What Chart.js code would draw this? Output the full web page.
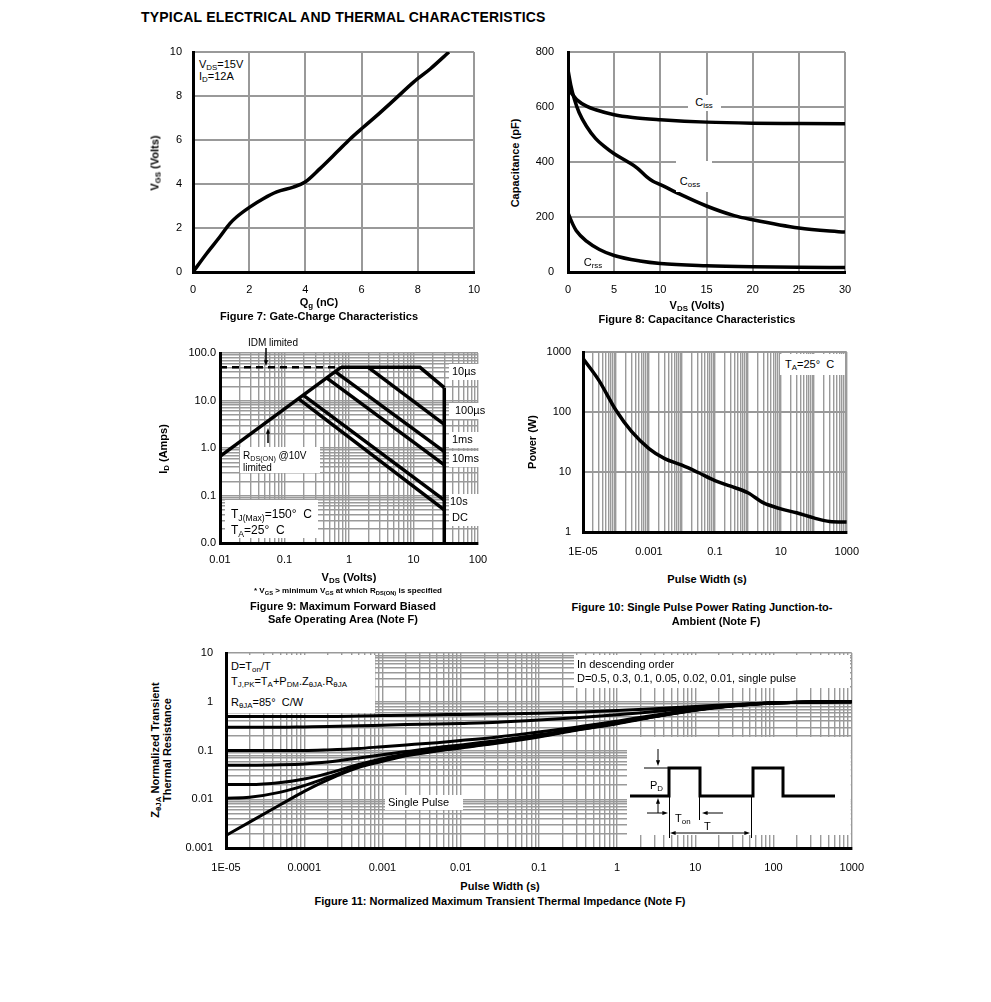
<!DOCTYPE html>
<html>
<head>
<meta charset="utf-8">
<title>Typical Electrical and Thermal Characteristics</title>
<script src="https://cdn.jsdelivr.net/npm/chart.js@4.4.1/dist/chart.umd.min.js"></script>
<style>
  body { margin: 0; background: #fff; }
  #page { position: relative; width: 991px; height: 1002px; overflow: hidden; font-family: "Liberation Sans", Arial, sans-serif; color: #000; }
  .cv { position: absolute; }
  .t { position: absolute; white-space: nowrap; font-size: 11px; line-height: 13px; }
  .b { font-weight: bold; }
  .c { transform: translateX(-50%); }
  .r { position: absolute; white-space: nowrap; font-size: 11px; line-height: 13px; font-weight: bold; text-align: center; transform: translate(-50%, -50%) rotate(-90deg); }
  .w { position: absolute; background: #fff; }
  sub { font-size: 72%; vertical-align: -0.3em; line-height: 0; }
</style>
</head>
<body>
<div id="page">
  <div id="charts"></div>

  <div class="t b" style="left:141px;top:9px;font-size:14px;line-height:16px;letter-spacing:0.2px">TYPICAL ELECTRICAL AND THERMAL CHARACTERISTICS</div>

  <!-- Figure 7 -->
  <div class="w" style="left:195px;top:54px;width:53px;height:33px"></div>
  <div class="t" style="left:199px;top:58px">V<sub>DS</sub>=15V</div>
  <div class="t" style="left:199px;top:70px">I<sub>D</sub>=12A</div>
  <div class="r" style="left:155px;top:163px">V<sub>GS</sub> (Volts)</div>
  <div class="t b c" style="left:319px;top:296px">Q<sub>g</sub> (nC)</div>
  <div class="t b c" style="left:319px;top:310px">Figure 7: Gate-Charge Characteristics</div>

  <!-- Figure 8 -->
  <div class="w" style="left:688px;top:95px;width:33px;height:16px"></div>
  <div class="t c" style="left:704px;top:96px">C<sub>iss</sub></div>
  <div class="w" style="left:676px;top:161px;width:36px;height:31px"></div>
  <div class="t c" style="left:690px;top:175px">C<sub>oss</sub></div>
  <div class="t c" style="left:593px;top:256px">C<sub>rss</sub></div>
  <div class="r" style="left:515px;top:163px">Capacitance (pF)</div>
  <div class="t b c" style="left:697px;top:299px">V<sub>DS</sub> (Volts)</div>
  <div class="t b c" style="left:697px;top:313px">Figure 8: Capacitance Characteristics</div>

  <!-- Figure 9 -->
  <div class="t c" style="left:273px;top:336px;font-size:10px">IDM limited</div>
  <div class="w" style="left:240px;top:447px;width:80px;height:26px"></div>
  <div class="t" style="left:243px;top:449px;font-size:10px">R<sub>DS(ON)</sub> @10V</div>
  <div class="t" style="left:243px;top:461px;font-size:10px">limited</div>
  <div class="w" style="left:225px;top:500px;width:93px;height:38px"></div>
  <div class="t" style="left:231px;top:508px;font-size:12px">T<sub>J(Max)</sub>=150°&nbsp; C</div>
  <div class="t" style="left:231px;top:524px;font-size:12px">T<sub>A</sub>=25°&nbsp; C</div>
  <div class="w" style="left:449px;top:364px;width:31px;height:16px"></div>
  <div class="t" style="left:452px;top:365px">10µs</div>
  <div class="w" style="left:449px;top:403px;width:38px;height:16px"></div>
  <div class="t" style="left:455px;top:404px">100µs</div>
  <div class="w" style="left:449px;top:432px;width:31px;height:16px"></div>
  <div class="t" style="left:452px;top:433px">1ms</div>
  <div class="w" style="left:449px;top:451px;width:31px;height:16px"></div>
  <div class="t" style="left:452px;top:452px">10ms</div>
  <div class="w" style="left:449px;top:494px;width:31px;height:16px"></div>
  <div class="t" style="left:450px;top:495px">10s</div>
  <div class="w" style="left:449px;top:510px;width:31px;height:16px"></div>
  <div class="t" style="left:452px;top:511px">DC</div>
  <div class="r" style="left:163px;top:449px">I<sub>D</sub> (Amps)</div>
  <div class="t b c" style="left:349px;top:571px">V<sub>DS</sub> (Volts)</div>
  <div class="t b c" style="left:348px;top:586px;font-size:8px;line-height:10px">* V<sub>GS</sub> &gt; minimum V<sub>GS</sub> at which R<sub>DS(ON)</sub> is specified</div>
  <div class="t b c" style="left:343px;top:600px">Figure 9: Maximum Forward Biased</div>
  <div class="t b c" style="left:343px;top:613px">Safe Operating Area (Note F)</div>

  <!-- Figure 10 -->
  <div class="w" style="left:780px;top:354px;width:65px;height:21px"></div>
  <div class="t" style="left:785px;top:358px">T<sub>A</sub>=25°&nbsp; C</div>
  <div class="r" style="left:532px;top:442px">Power (W)</div>
  <div class="t b c" style="left:707px;top:573px">Pulse Width (s)</div>
  <div class="t b c" style="left:702px;top:601px">Figure 10: Single Pulse Power Rating Junction-to-</div>
  <div class="t b c" style="left:716px;top:615px">Ambient (Note F)</div>

  <!-- Figure 11 -->
  <div class="w" style="left:228px;top:655px;width:147px;height:58px"></div>
  <div class="t" style="left:231px;top:660px">D=T<sub>on</sub>/T</div>
  <div class="t" style="left:231px;top:675px">T<sub>J,PK</sub>=T<sub>A</sub>+P<sub>DM</sub>.Z<sub>θJA</sub>.R<sub>θJA</sub></div>
  <div class="t" style="left:231px;top:696px">R<sub>θJA</sub>=85°&nbsp; C/W</div>
  <div class="w" style="left:574px;top:655px;width:276px;height:33px"></div>
  <div class="t" style="left:577px;top:658px">In descending order</div>
  <div class="t" style="left:577px;top:672px">D=0.5, 0.3, 0.1, 0.05, 0.02, 0.01, single pulse</div>
  <div class="w" style="left:385px;top:795px;width:78px;height:15px"></div>
  <div class="t" style="left:388px;top:796px">Single Pulse</div>
  <div class="t" style="left:650px;top:779px">P<sub>D</sub></div>
  <div class="t" style="left:675px;top:812px">T<sub>on</sub></div>
  <div class="t" style="left:704px;top:820px">T</div>
  <div class="r" style="left:161px;top:750px;line-height:12px">Z<sub>θJA</sub> Normalized Transient<br>Thermal Resistance</div>
  <div class="t b c" style="left:500px;top:880px">Pulse Width (s)</div>
  <div class="t b c" style="left:500px;top:895px">Figure 11: Normalized Maximum Transient Thermal Impedance (Note F)</div>
</div>

<script>
// ---- Figure 7: gate charge ----
const gateQg = [0, 0.48, 0.95, 1.31, 1.55, 2.02, 2.5, 2.98, 3.57, 3.99, 4.52, 5.12, 5.6, 6.07, 6.55, 7.14, 7.86, 8.45, 9.11];
const gateVgs = [0, 0.83, 1.59, 2.2, 2.5, 2.95, 3.33, 3.64, 3.86, 4.09, 4.7, 5.45, 6.06, 6.59, 7.12, 7.8, 8.64, 9.24, 10];

// ---- Figure 8: capacitance ----
const cissVds = [0, 0.5, 1, 2, 3, 5, 7, 10, 15, 20, 25, 30];
const cissPf = [665, 645, 625, 603, 590, 572, 562, 554, 545, 541, 540, 539];
const cossVds = [0, 0.3, 0.7, 1.2, 2, 3, 4, 5, 6.5, 7.5, 8.5, 9.2, 10, 12, 15, 18, 20, 25, 30];
const cossPf = [735, 680, 627, 580, 530, 485, 455, 430, 400, 378, 347, 330, 318, 285, 240, 205, 190, 160, 145];
const crssVds = [0, 0.5, 0.9, 2, 3.4, 5, 7.8, 10, 15, 20, 25, 30];
const crssPf = [215, 175, 150, 112, 82, 60, 40, 31, 23, 19, 17, 16];

// ---- Figure 9: safe operating area ----
const soaRdsV = [0.01, 0.75];     const soaRdsI = [0.667, 50];
const soaIdmV = [0.01, 0.75];     const soaIdmI = [50, 50];
const soa10usV = [0.75, 12.6, 30]; const soa10usI = [50, 50, 18.6];
const soa100usV = [1.99, 30];     const soa100usI = [50, 3.15];
const soa1msV = [0.61, 30];       const soa1msI = [40.6, 0.84];
const soa10msV = [0.45, 30];      const soa10msI = [30, 0.44];
const soa10sV = [0.195, 30];      const soa10sI = [13, 0.08];
const soaDcV = [0.164, 30];       const soaDcI = [10.9, 0.05];
const soaVmaxV = [30, 30];        const soaVmaxI = [18.6, 0.01];

// ---- Figure 10: single pulse power ----
const pulseTime = [1e-5, 3e-5, 1e-4, 3e-4, 1e-3, 3e-3, 1e-2, 3e-2, 0.1, 0.3, 1, 3, 10, 30, 100, 300, 1000];
const pulsePower = [780, 340, 107, 47, 24.6, 16.7, 13, 9.9, 7.2, 5.8, 4.5, 3.05, 2.43, 2.09, 1.72, 1.5, 1.47];

// ---- Figure 11: transient thermal impedance ----
const zthTime = [1e-5, 2e-5, 5e-5, 1e-4, 2e-4, 5e-4, 1e-3, 2e-3, 5e-3, 1e-2, 3e-2, 0.1, 0.3, 1, 3, 10, 30, 100, 300, 1000];
const zthD05 = [0.5, 0.5, 0.5, 0.5, 0.5, 0.51, 0.52, 0.53, 0.54, 0.55, 0.56, 0.58, 0.61, 0.66, 0.72, 0.8, 0.88, 0.95, 0.99, 1.0];
const zthD03 = [0.3, 0.3, 0.3, 0.305, 0.31, 0.32, 0.33, 0.34, 0.35, 0.36, 0.38, 0.42, 0.47, 0.54, 0.63, 0.75, 0.86, 0.95, 0.99, 1.0];
const zthD01 = [0.1, 0.1, 0.1, 0.1, 0.103, 0.11, 0.12, 0.13, 0.145, 0.16, 0.19, 0.24, 0.3, 0.4, 0.53, 0.7, 0.84, 0.94, 0.99, 1.0];
const zthD005 = [0.05, 0.05, 0.051, 0.053, 0.058, 0.07, 0.082, 0.095, 0.115, 0.13, 0.16, 0.21, 0.28, 0.38, 0.51, 0.69, 0.83, 0.94, 0.99, 1.0];
const zthD002 = [0.02, 0.02, 0.022, 0.026, 0.034, 0.052, 0.068, 0.085, 0.105, 0.12, 0.15, 0.2, 0.27, 0.37, 0.5, 0.68, 0.83, 0.94, 0.99, 1.0];
const zthD001 = [0.0105, 0.011, 0.014, 0.019, 0.028, 0.047, 0.063, 0.081, 0.1, 0.115, 0.145, 0.195, 0.265, 0.36, 0.5, 0.68, 0.83, 0.94, 0.99, 1.0];
const zthSingle = [0.0018, 0.0034, 0.0078, 0.0145, 0.025, 0.045, 0.06, 0.078, 0.098, 0.113, 0.142, 0.19, 0.26, 0.355, 0.49, 0.67, 0.82, 0.94, 0.99, 1.0];

// tick labels
const soaXDecades = [0.01, 0.1, 1, 10, 100];  const soaXLabels = ['0.01', '0.1', '1', '10', '100'];
const soaYDecades = [0.01, 0.1, 1, 10, 100];  const soaYLabels = ['0.0', '0.1', '1.0', '10.0', '100.0'];
const pulseXDecades = [1e-5, 1e-4, 1e-3, 1e-2, 0.1, 1, 10, 100, 1000];
const pulseXLabelAt = [1e-5, 1e-3, 0.1, 10, 1000]; const pulseXLabels = ['1E-05', '0.001', '0.1', '10', '1000'];
const pulseYDecades = [1, 10, 100, 1000];     const pulseYLabels = ['1', '10', '100', '1000'];
const zthXDecades = [1e-5, 1e-4, 1e-3, 1e-2, 0.1, 1, 10, 100, 1000];
const zthXLabels = ['1E-05', '0.0001', '0.001', '0.01', '0.1', '1', '10', '100', '1000'];
const zthYDecades = [0.001, 0.01, 0.1, 1, 10]; const zthYLabels = ['0.001', '0.01', '0.1', '1', '10'];

Chart.defaults.font.family = '"Liberation Sans", Arial, sans-serif';
Chart.defaults.font.size = 11;
Chart.defaults.color = '#000';

const gridLin = { color: '#999', lineWidth: 2, drawTicks: false };
const gridLog = { color: '#9a9a9a', lineWidth: 1.4, drawTicks: false };
const axisLine = { color: '#000', width: 3 };

function pts(xs, ys) {
  return xs.map((x, i) => ({ x: x, y: ys[i] }));
}

// gridline values: 1..9 within each decade, last decade alone
function logGrid(decades, minors) {
  const v = [];
  decades.forEach((d, i) => {
    if (!minors || i === decades.length - 1) { v.push(d); return; }
    for (let k = 1; k <= 9; k++) v.push(d * k);
  });
  return v;
}

function decadeLabel(at, labels) {
  return value => {
    const i = at.findIndex(d => Math.abs(Math.log10(value / d)) < 1e-6);
    return i < 0 ? '' : labels[i];
  };
}

// the top padding must exceed half a label plus the y tick padding,
// otherwise chart.js pushes the plot area down
function mount(area, pad) {
  const w = area.r - area.l + pad.l + pad.r;
  const h = area.b - area.t + pad.t + pad.b;
  const div = document.createElement('div');
  div.className = 'cv';
  div.style.left = (area.l - pad.l) + 'px';
  div.style.top = (area.t - pad.t) + 'px';
  div.style.width = w + 'px';
  div.style.height = h + 'px';
  const cv = document.createElement('canvas');
  cv.width = w;
  cv.height = h;
  div.appendChild(cv);
  document.getElementById('charts').appendChild(div);
  return cv;
}

function options(pad, scales) {
  scales.x.afterFit = s => { s.height = pad.b; };
  scales.y.afterFit = s => { s.width = pad.l; };
  scales.x.ticks.maxRotation = 0;
  scales.x.ticks.autoSkip = false;
  scales.y.ticks.autoSkip = false;
  return {
    responsive: false,
    animation: false,
    devicePixelRatio: 1,
    layout: { autoPadding: false, padding: { left: 0, top: pad.t, right: pad.r, bottom: 0 } },
    plugins: { legend: { display: false }, tooltip: { enabled: false } },
    elements: { point: { radius: 0 }, line: { borderColor: '#000', borderWidth: 3.5, fill: false } },
    scales: scales
  };
}

function arrow(ctx, x1, y1, x2, y2, head) {
  const a = Math.atan2(y2 - y1, x2 - x1);
  ctx.beginPath();
  ctx.moveTo(x1, y1);
  ctx.lineTo(x2 - Math.cos(a) * head * 0.6, y2 - Math.sin(a) * head * 0.6);
  ctx.stroke();
  ctx.beginPath();
  ctx.moveTo(x2, y2);
  ctx.lineTo(x2 - head * Math.cos(a - 0.35), y2 - head * Math.sin(a - 0.35));
  ctx.lineTo(x2 - head * Math.cos(a + 0.35), y2 - head * Math.sin(a + 0.35));
  ctx.closePath();
  ctx.fill();
}

// ---- Figure 7 ----
const fig7Area = { l: 193, t: 52, r: 474, b: 272 };
const fig7Pad = { l: 40, t: 26, r: 20, b: 30 };
new Chart(mount(fig7Area, fig7Pad), {
  type: 'line',
  data: { datasets: [{ label: 'VGS', data: pts(gateQg, gateVgs), cubicInterpolationMode: 'monotone' }] },
  options: options(fig7Pad, {
    x: { type: 'linear', min: 0, max: 10, ticks: { stepSize: 2, padding: 11 }, grid: gridLin, border: axisLine },
    y: { type: 'linear', min: 0, max: 10, ticks: { stepSize: 2, padding: 11 }, grid: gridLin, border: axisLine }
  })
});

// ---- Figure 8 ----
const fig8Area = { l: 568, t: 52, r: 845, b: 272 };
const fig8Pad = { l: 45, t: 26, r: 20, b: 30 };
new Chart(mount(fig8Area, fig8Pad), {
  type: 'line',
  data: {
    datasets: [
      { label: 'Ciss', data: pts(cissVds, cissPf), cubicInterpolationMode: 'monotone' },
      { label: 'Coss', data: pts(cossVds, cossPf), cubicInterpolationMode: 'monotone' },
      { label: 'Crss', data: pts(crssVds, crssPf), cubicInterpolationMode: 'monotone' }
    ]
  },
  options: options(fig8Pad, {
    x: { type: 'linear', min: 0, max: 30, ticks: { stepSize: 5, padding: 11 }, grid: gridLin, border: axisLine },
    y: { type: 'linear', min: 0, max: 800, ticks: { stepSize: 200, padding: 14 }, grid: gridLin, border: axisLine }
  })
});

// ---- Figure 9 ----
const fig9Area = { l: 220, t: 353, r: 478, b: 543 };
const fig9Pad = { l: 45, t: 26, r: 20, b: 30 };
const soaArrows = {
  id: 'soaArrows',
  afterDraw(chart) {
    const { ctx, chartArea: a } = chart;
    ctx.save();
    ctx.strokeStyle = '#000';
    ctx.fillStyle = '#000';
    ctx.lineWidth = 1.5;
    arrow(ctx, a.left + 46, a.top - 5, a.left + 46, a.top + 13, 6);
    arrow(ctx, a.left + 48, a.top + 90, a.left + 48, a.top + 75, 6);
    ctx.restore();
  }
};
new Chart(mount(fig9Area, fig9Pad), {
  type: 'line',
  data: {
    datasets: [
      { label: 'RDS(ON) limited', data: pts(soaRdsV, soaRdsI) },
      { label: 'IDM limited', data: pts(soaIdmV, soaIdmI), borderWidth: 2.5, borderDash: [7, 5] },
      { label: '10us', data: pts(soa10usV, soa10usI) },
      { label: '100us', data: pts(soa100usV, soa100usI) },
      { label: '1ms', data: pts(soa1msV, soa1msI) },
      { label: '10ms', data: pts(soa10msV, soa10msI) },
      { label: '10s', data: pts(soa10sV, soa10sI) },
      { label: 'DC', data: pts(soaDcV, soaDcI) },
      { label: 'VDS max', data: pts(soaVmaxV, soaVmaxI) }
    ]
  },
  options: options(fig9Pad, {
    x: {
      type: 'logarithmic', min: 0.01, max: 100,
      afterBuildTicks: s => { s.ticks = logGrid(soaXDecades, true).map(v => ({ value: v })); },
      ticks: { padding: 10, callback: decadeLabel(soaXDecades, soaXLabels) },
      grid: gridLog, border: axisLine
    },
    y: {
      type: 'logarithmic', min: 0.01, max: 100,
      afterBuildTicks: s => { s.ticks = logGrid(soaYDecades, true).map(v => ({ value: v })); },
      ticks: { padding: 4, callback: decadeLabel(soaYDecades, soaYLabels) },
      grid: gridLog, border: axisLine
    }
  }),
  plugins: [soaArrows]
});

// ---- Figure 10 ----
const fig10Area = { l: 583, t: 352, r: 847, b: 532 };
const fig10Pad = { l: 45, t: 26, r: 25, b: 30 };
new Chart(mount(fig10Area, fig10Pad), {
  type: 'line',
  data: { datasets: [{ label: 'Power', data: pts(pulseTime, pulsePower), cubicInterpolationMode: 'monotone' }] },
  options: options(fig10Pad, {
    x: {
      type: 'logarithmic', min: 1e-5, max: 1000,
      afterBuildTicks: s => { s.ticks = logGrid(pulseXDecades, true).map(v => ({ value: v })); },
      ticks: { padding: 13, callback: decadeLabel(pulseXLabelAt, pulseXLabels) },
      grid: gridLog, border: axisLine
    },
    y: {
      type: 'logarithmic', min: 1, max: 1000,
      afterBuildTicks: s => { s.ticks = logGrid(pulseYDecades, false).map(v => ({ value: v })); },
      ticks: { padding: 12, callback: decadeLabel(pulseYDecades, pulseYLabels) },
      grid: { color: '#999', lineWidth: 2, drawTicks: false }, border: axisLine
    }
  })
});

// ---- Figure 11 ----
const fig11Area = { l: 226, t: 653, r: 852, b: 848 };
const fig11Pad = { l: 45, t: 26, r: 25, b: 30 };
const pulseInset = {
  id: 'pulseInset',
  afterDatasetsDraw(chart) {
    const { ctx, chartArea: a } = chart;
    const ox = a.left + 401, oy = a.top + 84;
    ctx.save();
    ctx.fillStyle = '#fff';
    ctx.fillRect(ox, oy, a.right - ox - 1, 98);
    ctx.strokeStyle = '#000';
    ctx.fillStyle = '#000';
    // waveform
    ctx.lineWidth = 3;
    ctx.lineJoin = 'miter';
    const lo = oy + 59, hi = oy + 31;
    ctx.beginPath();
    ctx.moveTo(ox + 3, lo);
    ctx.lineTo(ox + 42, lo); ctx.lineTo(ox + 42, hi); ctx.lineTo(ox + 73, hi); ctx.lineTo(ox + 73, lo);
    ctx.lineTo(ox + 126, lo); ctx.lineTo(ox + 126, hi); ctx.lineTo(ox + 156, hi); ctx.lineTo(ox + 156, lo);
    ctx.lineTo(ox + 208, lo);
    ctx.stroke();
    // reference and marker lines
    ctx.lineWidth = 1;
    ctx.beginPath();
    ctx.moveTo(ox + 17, hi); ctx.lineTo(ox + 42, hi);
    ctx.moveTo(ox + 42.5, lo); ctx.lineTo(ox + 42.5, oy + 101);
    ctx.moveTo(ox + 72.5, lo); ctx.lineTo(ox + 72.5, oy + 83);
    ctx.moveTo(ox + 124.5, lo); ctx.lineTo(ox + 124.5, oy + 101);
    ctx.stroke();
    arrow(ctx, ox + 31, oy + 12, ox + 31, oy + 29, 6);
    arrow(ctx, ox + 31, oy + 76, ox + 31, oy + 61, 6);
    arrow(ctx, ox + 20, oy + 76, ox + 41, oy + 76, 6);
    arrow(ctx, ox + 96, oy + 76, ox + 75, oy + 76, 6);
    arrow(ctx, ox + 80, oy + 96, ox + 43, oy + 96, 6);
    arrow(ctx, ox + 80, oy + 96, ox + 123, oy + 96, 6);
    ctx.restore();
  }
};
new Chart(mount(fig11Area, fig11Pad), {
  type: 'line',
  data: {
    datasets: [
      { label: 'D=0.5', data: pts(zthTime, zthD05), cubicInterpolationMode: 'monotone', borderWidth: 3 },
      { label: 'D=0.3', data: pts(zthTime, zthD03), cubicInterpolationMode: 'monotone', borderWidth: 3 },
      { label: 'D=0.1', data: pts(zthTime, zthD01), cubicInterpolationMode: 'monotone', borderWidth: 3 },
      { label: 'D=0.05', data: pts(zthTime, zthD005), cubicInterpolationMode: 'monotone', borderWidth: 3 },
      { label: 'D=0.02', data: pts(zthTime, zthD002), cubicInterpolationMode: 'monotone', borderWidth: 3 },
      { label: 'D=0.01', data: pts(zthTime, zthD001), cubicInterpolationMode: 'monotone', borderWidth: 3 },
      { label: 'Single pulse', data: pts(zthTime, zthSingle), cubicInterpolationMode: 'monotone', borderWidth: 3 }
    ]
  },
  options: options(fig11Pad, {
    x: {
      type: 'logarithmic', min: 1e-5, max: 1000,
      afterBuildTicks: s => { s.ticks = logGrid(zthXDecades, true).map(v => ({ value: v })); },
      ticks: { padding: 13, callback: decadeLabel(zthXDecades, zthXLabels) },
      grid: gridLog, border: axisLine
    },
    y: {
      type: 'logarithmic', min: 0.001, max: 10,
      afterBuildTicks: s => { s.ticks = logGrid(zthYDecades, true).map(v => ({ value: v })); },
      ticks: { padding: 13, callback: decadeLabel(zthYDecades, zthYLabels) },
      grid: gridLog, border: axisLine
    }
  }),
  plugins: [pulseInset]
});
</script>
</body>
</html>
